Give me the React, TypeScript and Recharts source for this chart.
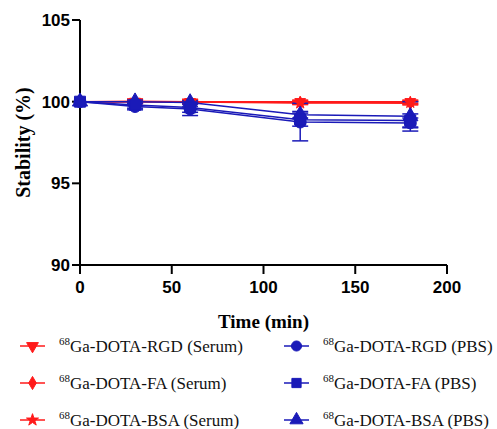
import React from 'react';
import { LineChart, Line, XAxis, YAxis, ErrorBar, Symbols, Label } from 'recharts';

const times = [0, 30, 60, 120, 180];
const xTicks = [0, 50, 100, 150, 200];
const yTicks = [90, 95, 100, 105];

const rgdSerum = [100, 100.02, 100.0, 100.0, 100.0];
const faSerum = [100, 100.0, 100.0, 99.95, 99.9];
const bsaSerum = [100, 100.0, 99.98, 99.92, 99.95];
const rgdPbs = [100, 99.7, 99.55, 98.75, 98.7];
const faPbs = [100, 99.8, 99.65, 98.9, 98.85];
const bsaPbs = [100, 100.0, 99.95, 99.2, 99.1];

const rgdSerumErr = [0, 0.15, 0.15, 0.1, 0.1];
const faSerumErr = [0, 0.1, 0.1, 0.1, 0.1];
const bsaSerumErr = [0, 0.1, 0.1, 0.1, 0.1];
const rgdPbsErr = [0, 0.2, 0.4, 1.15, 0.3];
const faPbsErr = [0, 0.2, 0.3, 0.4, 0.4];
const bsaPbsErr = [0, 0.1, 0.1, 0.2, 0.9];

const RED = '#ff1a1a';
const BLUE = '#1a1ab8';

type S = { key: string; name: string; values: number[]; errs: number[]; color: string; shape: string; size: number; rotate?: number };

const series: S[] = [
  { key: 'rgdSerum', name: 'Ga-DOTA-RGD (Serum)', values: rgdSerum, errs: rgdSerumErr, color: RED, shape: 'triangle', size: 50, rotate: 180 },
  { key: 'faSerum', name: 'Ga-DOTA-FA (Serum)', values: faSerum, errs: faSerumErr, color: RED, shape: 'diamond', size: 45 },
  { key: 'bsaSerum', name: 'Ga-DOTA-BSA (Serum)', values: bsaSerum, errs: bsaSerumErr, color: RED, shape: 'star', size: 45 },
  { key: 'rgdPbs', name: 'Ga-DOTA-RGD (PBS)', values: rgdPbs, errs: rgdPbsErr, color: BLUE, shape: 'circle', size: 110 },
  { key: 'faPbs', name: 'Ga-DOTA-FA (PBS)', values: faPbs, errs: faPbsErr, color: BLUE, shape: 'square', size: 120 },
  { key: 'bsaPbs', name: 'Ga-DOTA-BSA (PBS)', values: bsaPbs, errs: bsaPbsErr, color: BLUE, shape: 'triangle', size: 100 },
];

const drawOrder = ['rgdSerum', 'faSerum', 'bsaSerum', 'rgdPbs', 'bsaPbs', 'faPbs'];

const data = times.map((t, i) => {
  const row: any = { time: t };
  series.forEach((s) => {
    row[s.key] = s.values[i];
    row[s.key + 'Err'] = s.errs[i];
  });
  return row;
});

const makeDot = (s: S) => (props: any) => {
  const { cx, cy, index } = props;
  if (cx == null || cy == null) return <g key={`d-${s.key}-${index}`} />;
  return (
    <g key={`d-${s.key}-${index}`} transform={s.rotate ? `rotate(${s.rotate} ${cx} ${cy})` : undefined}>
      <Symbols cx={cx} cy={cy} type={s.shape as any} size={s.size} fill={s.color} stroke={s.color} />
    </g>
  );
};

const tickStyle = { fontFamily: 'Arial, "Liberation Sans", sans-serif', fontWeight: 'bold', fontSize: 17, fill: '#000' };

const legendSizes: Record<string, number> = { rgdSerum: 60, faSerum: 50, bsaSerum: 45, rgdPbs: 80, faPbs: 85, bsaPbs: 75 };

const LegendBlock = () => {
  const left = series.slice(0, 3);
  const right = series.slice(3);
  const renderItem = (s: S) => (
    <div key={s.key} style={{ display: 'flex', alignItems: 'center', height: 37 }}>
      <svg width={40} height={20}>
        <line x1={6} y1={10} x2={31} y2={10} stroke={s.color} strokeWidth={1.5} />
        <g transform={s.rotate ? `rotate(${s.rotate} 18.5 10)` : undefined}>
          <Symbols cx={18.5} cy={10} type={s.shape as any} size={legendSizes[s.key]} fill={s.color} stroke={s.color} />
        </g>
      </svg>
      <span style={{ fontFamily: '"Times New Roman", "Liberation Serif", serif', fontSize: 17, color: '#111', marginLeft: 5, whiteSpace: 'nowrap' }}>
        <sup style={{ fontSize: 11 }}>68</sup>
        {s.name}
      </span>
    </div>
  );
  return (
    <div style={{ position: 'absolute', top: 327, left: 0, display: 'flex', width: 497 }}>
      <div style={{ marginLeft: 14, width: 264 }}>{left.map(renderItem)}</div>
      <div>{right.map(renderItem)}</div>
    </div>
  );
};

export default function App() {
  const ordered = drawOrder.map((k) => series.find((s) => s.key === k) as S);
  return (
    <div style={{ position: 'absolute', left: 0, top: 0, width: 497, height: 429, background: '#fff' }}>
      <LineChart width={497} height={429} data={data} margin={{ top: 20, right: 50, left: 30, bottom: 99 }}>
        <XAxis
          dataKey="time"
          type="number"
          domain={[0, 200]}
          ticks={xTicks}
          tick={{ ...tickStyle, dy: 5 }}
          tickSize={9}
          height={65}
          stroke="#000"
          tickLine={{ stroke: '#000', strokeWidth: 2 }}
          axisLine={{ stroke: '#000', strokeWidth: 2 }}
        >
          <Label
            value="Time (min)"
            position="insideBottom"
            offset={2}
            style={{ fontFamily: '"Times New Roman", "Liberation Serif", serif', fontWeight: 'bold', fontSize: 19, fill: '#000' }}
          />
        </XAxis>
        <YAxis
          type="number"
          domain={[90, 105]}
          ticks={yTicks}
          tick={tickStyle}
          tickSize={8}
          width={50}
          stroke="#000"
          tickLine={{ stroke: '#000', strokeWidth: 2 }}
          axisLine={{ stroke: '#000', strokeWidth: 2 }}
          allowDataOverflow
        >
          <Label
            value="Stability (%)"
            angle={-90}
            position="insideLeft"
            offset={-7}
            style={{ fontFamily: '"Times New Roman", "Liberation Serif", serif', fontWeight: 'bold', fontSize: 20, fill: '#000', textAnchor: 'middle' }}
          />
        </YAxis>
        {ordered.map((s) => (
          <Line
            key={s.key}
            dataKey={s.key}
            name={s.name}
            stroke={s.color}
            strokeWidth={1.5}
            dot={makeDot(s)}
            activeDot={false}
            isAnimationActive={false}
          >
            <ErrorBar dataKey={s.key + 'Err'} width={8} stroke={s.color} strokeWidth={1.5} direction="y" />
          </Line>
        ))}
      </LineChart>
      <LegendBlock />
    </div>
  );
}
